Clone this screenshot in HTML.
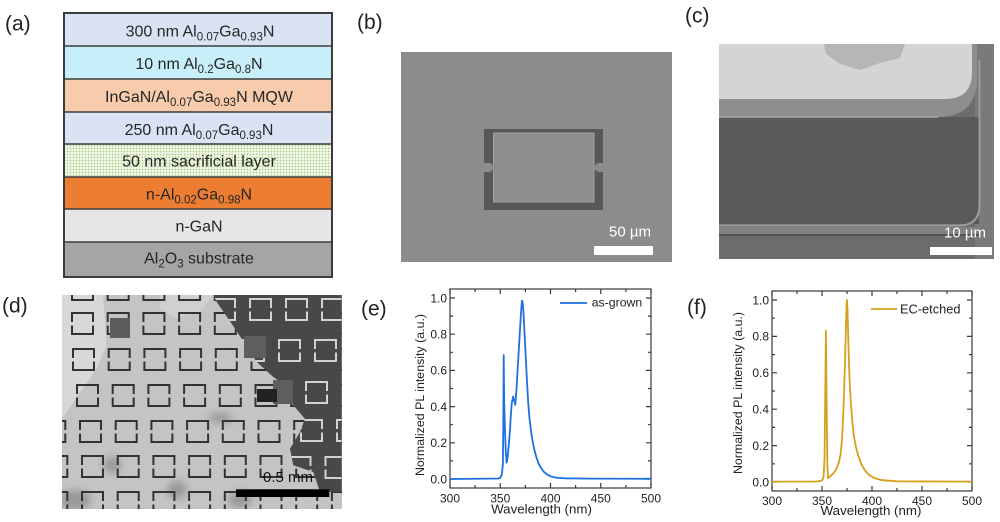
<!DOCTYPE html>
<html><head><meta charset="utf-8"><style>
html,body{margin:0;padding:0;background:#fff;}
svg{display:block;}
text{font-family:"Liberation Sans",Arial,sans-serif;}
</style></head><body>
<svg width="1000" height="522" viewBox="0 0 1000 522" xmlns="http://www.w3.org/2000/svg">
<defs>
<pattern id="dots" width="3" height="3" patternUnits="userSpaceOnUse"><rect width="3" height="3" fill="#f2f8e8"/><circle cx="1.5" cy="1.5" r="0.85" fill="#a6cd86"/></pattern>
<path id="sq" d="M0,9 V0 H21 V9 M21,12.5 V21 H0 V12.5" fill="none"/>
<clipPath id="dclip"><rect x="62" y="295" width="280" height="214"/></clipPath>
<clipPath id="darkclip"><polygon points="213.3,294.7 341.7,294.7 341.7,492 320,492 313.3,472 293.3,465.3 290,448.7 300,432 305,418.7 293.3,405.3 290,388.7 273.3,377 256.7,362 241.7,338.7 231.7,323.7 216.7,302"/></clipPath>
<filter id="blur4"><feGaussianBlur stdDeviation="4"/></filter>
</defs>

<rect width="1000" height="522" fill="#fff"/>

<!-- panel labels -->
<g font-size="21" fill="#222">
<text x="5" y="30.5">(a)</text>
<text x="357" y="29">(b)</text>
<text x="685" y="22.5">(c)</text>
<text x="2" y="312.5">(d)</text>
<text x="361" y="315.5">(e)</text>
<text x="687" y="314">(f)</text>
</g>

<!-- (a) layer stack -->
<rect x="64" y="13" width="268" height="33" fill="#dae3f3"/>
<rect x="64" y="46" width="268" height="33" fill="#c8eefa"/>
<rect x="64" y="79" width="268" height="33" fill="#f8cbad"/>
<rect x="64" y="112" width="268" height="32" fill="#dae3f3"/>
<rect x="64" y="144" width="268" height="33" fill="url(#dots)"/>
<rect x="64" y="177" width="268" height="32" fill="#ed7d31"/>
<rect x="64" y="209" width="268" height="33" fill="#e6e6e6"/>
<rect x="64" y="242" width="268" height="35" fill="#a5a5a5"/>
<g stroke="#3c3c3c" stroke-width="1.5">
<line x1="64" y1="46" x2="332" y2="46"/><line x1="64" y1="79" x2="332" y2="79"/>
<line x1="64" y1="112" x2="332" y2="112"/><line x1="64" y1="144" x2="332" y2="144"/>
<line x1="64" y1="177" x2="332" y2="177"/><line x1="64" y1="209" x2="332" y2="209"/>
<line x1="64" y1="242" x2="332" y2="242"/>
</g>
<rect x="64" y="13" width="268" height="264" fill="none" stroke="#3c3c3c" stroke-width="2"/>
<g font-size="16" fill="#262626" text-anchor="middle">
<text x="200" y="36.5">300 nm Al<tspan font-size="11.5" dy="4">0.07</tspan><tspan dy="-4">Ga</tspan><tspan font-size="11.5" dy="4">0.93</tspan><tspan dy="-4">N</tspan></text>
<text x="199" y="69">10 nm Al<tspan font-size="11.5" dy="4">0.2</tspan><tspan dy="-4">Ga</tspan><tspan font-size="11.5" dy="4">0.8</tspan><tspan dy="-4">N</tspan></text>
<text x="199" y="102">InGaN/Al<tspan font-size="11.5" dy="4">0.07</tspan><tspan dy="-4">Ga</tspan><tspan font-size="11.5" dy="4">0.93</tspan><tspan dy="-4">N MQW</tspan></text>
<text x="199" y="135">250 nm Al<tspan font-size="11.5" dy="4">0.07</tspan><tspan dy="-4">Ga</tspan><tspan font-size="11.5" dy="4">0.93</tspan><tspan dy="-4">N</tspan></text>
<text x="199" y="166.5">50 nm sacrificial layer</text>
<text x="199" y="199.5">n-Al<tspan font-size="11.5" dy="4">0.02</tspan><tspan dy="-4">Ga</tspan><tspan font-size="11.5" dy="4">0.98</tspan><tspan dy="-4">N</tspan></text>
<text x="199" y="231.5">n-GaN</text>
<text x="199" y="263.5">Al<tspan font-size="11.5" dy="4">2</tspan><tspan dy="-4">O</tspan><tspan font-size="11.5" dy="4">3</tspan><tspan dy="-4"> substrate</tspan></text>
</g>

<!-- (b) SEM -->
<rect x="401" y="52" width="271" height="210" fill="#8c8c8c"/>
<rect x="484" y="129" width="119" height="81" fill="#585858"/>
<rect x="493.5" y="133" width="100.5" height="69" fill="#8e8e8e" stroke="#a2a2a2" stroke-width="1"/>
<polygon points="484,163 490,163 494,166 494,169 490,172 484,172" fill="#8c8c8c"/>
<polygon points="603,163 598,163 594,166 594,169 598,172 603,172" fill="#8c8c8c"/>
<rect x="594" y="246" width="59" height="9" fill="#fff"/>
<text x="609" y="236.5" font-size="15" fill="#fff">50 µm</text>

<!-- (c) SEM -->
<rect x="719" y="44" width="275" height="215" fill="#6c6c6c"/>
<rect x="975" y="44" width="19" height="215" fill="#7a7a7a"/>
<path d="M719,44 H977 V78 Q977,117 938,117 H719 Z" fill="#8e8e8e"/>
<path d="M719,44 H972 V72 Q972,99 945,99 H719 Z" fill="#d4d4d4"/>
<path d="M824,44 H905 L900,58 L880,63 L860,70 L840,64 L826,54 Z" fill="#b6b6b6"/>
<rect x="719" y="117" width="260" height="107" fill="#5a5a5a"/>
<path d="M958,117 Q979,117 979,138 V205 Q979,224 960,224 H719 V117 Z" fill="#5a5a5a"/>
<path d="M719,117 H938" stroke="#a6a6a6" stroke-width="1.5" fill="none"/>
<path d="M979.5,60 V205 Q979.5,225.5 959,225.5 H719" stroke="#9c9c9c" stroke-width="2" fill="none"/>
<rect x="719" y="227" width="260" height="7" fill="#828282"/>
<rect x="719" y="234" width="260" height="2" fill="#555"/>
<rect x="930" y="247" width="62" height="8" fill="#fff"/>
<text x="944" y="237.5" font-size="15" fill="#fff">10 µm</text>

<!-- (d) SEM -->
<g clip-path="url(#dclip)">
<rect x="62" y="295" width="280" height="214" fill="#c4c4c4"/>
<polygon points="62,295 103,295 106.7,345 96.7,368.7 80,392 66.7,412 62,418.7" fill="#d8d8d8"/>
<polygon points="160,295 213,295 200,312 175,318 160,308" fill="#d0d0d0"/>
<g filter="url(#blur4)" fill="#8a8a8a" opacity="0.75">
<ellipse cx="75" cy="500" rx="16" ry="10"/>
<ellipse cx="112" cy="465" rx="9" ry="8"/>
<ellipse cx="177" cy="490" rx="10" ry="9"/>
<ellipse cx="240" cy="500" rx="12" ry="8"/>
<ellipse cx="220" cy="418" rx="12" ry="5"/>
</g>
<g stroke="#333" stroke-width="2">
<use href="#sq" x="72" y="279"/><use href="#sq" x="107.7" y="279"/><use href="#sq" x="143.4" y="279"/><use href="#sq" x="179.1" y="279"/><use href="#sq" x="214.8" y="279"/><use href="#sq" x="250.5" y="279"/><use href="#sq" x="286.2" y="279"/><use href="#sq" x="321.9" y="279"/>
<use href="#sq" x="72" y="313"/><use href="#sq" x="107.7" y="313"/><use href="#sq" x="143.4" y="313"/><use href="#sq" x="179.1" y="313"/><use href="#sq" x="214.8" y="313"/><use href="#sq" x="250.5" y="313"/><use href="#sq" x="286.2" y="313"/><use href="#sq" x="321.9" y="313"/>
<use href="#sq" x="73" y="349"/><use href="#sq" x="108.7" y="349"/><use href="#sq" x="144.4" y="349"/><use href="#sq" x="180.1" y="349"/><use href="#sq" x="215.8" y="349"/><use href="#sq" x="251.5" y="349"/><use href="#sq" x="287.2" y="349"/><use href="#sq" x="322.9" y="349"/>
<use href="#sq" x="77" y="385"/><use href="#sq" x="112.7" y="385"/><use href="#sq" x="148.4" y="385"/><use href="#sq" x="184.1" y="385"/><use href="#sq" x="219.8" y="385"/><use href="#sq" x="255.5" y="385"/><use href="#sq" x="291.2" y="385"/><use href="#sq" x="326.9" y="385"/>
<use href="#sq" x="44.3" y="421"/><use href="#sq" x="80" y="421"/><use href="#sq" x="115.7" y="421"/><use href="#sq" x="151.4" y="421"/><use href="#sq" x="187.1" y="421"/><use href="#sq" x="222.8" y="421"/><use href="#sq" x="258.5" y="421"/><use href="#sq" x="294.2" y="421"/><use href="#sq" x="329.9" y="421"/>
<use href="#sq" x="46.3" y="456"/><use href="#sq" x="82" y="456"/><use href="#sq" x="117.7" y="456"/><use href="#sq" x="153.4" y="456"/><use href="#sq" x="189.1" y="456"/><use href="#sq" x="224.8" y="456"/><use href="#sq" x="260.5" y="456"/><use href="#sq" x="296.2" y="456"/><use href="#sq" x="331.9" y="456"/>
<use href="#sq" x="46.3" y="492"/><use href="#sq" x="82" y="492"/><use href="#sq" x="117.7" y="492"/><use href="#sq" x="153.4" y="492"/><use href="#sq" x="189.1" y="492"/><use href="#sq" x="224.8" y="492"/><use href="#sq" x="260.5" y="492"/><use href="#sq" x="296.2" y="492"/><use href="#sq" x="331.9" y="492"/>
</g>
<rect x="110" y="318" width="20" height="20" fill="#5c5c5c"/>
<polygon points="213.3,294.7 341.7,294.7 341.7,492 320,492 313.3,472 293.3,465.3 290,448.7 300,432 305,418.7 293.3,405.3 290,388.7 273.3,377 256.7,362 241.7,338.7 231.7,323.7 216.7,302" fill="#484848"/>
<g clip-path="url(#darkclip)" stroke="#d2d2d2" stroke-width="2">
<use href="#sq" x="178" y="299"/><use href="#sq" x="214" y="299"/><use href="#sq" x="250" y="299"/><use href="#sq" x="286" y="299"/><use href="#sq" x="322" y="299"/>
<use href="#sq" x="171" y="340"/><use href="#sq" x="207" y="340"/><use href="#sq" x="243" y="340"/><use href="#sq" x="279" y="340"/><use href="#sq" x="315" y="340"/>
<use href="#sq" x="198" y="382"/><use href="#sq" x="234" y="382"/><use href="#sq" x="270" y="382"/><use href="#sq" x="306" y="382"/>
<use href="#sq" x="193" y="420"/><use href="#sq" x="229" y="420"/><use href="#sq" x="265" y="420"/><use href="#sq" x="301" y="420"/><use href="#sq" x="337" y="420"/>
<use href="#sq" x="181.5" y="457"/><use href="#sq" x="217.5" y="457"/><use href="#sq" x="253.5" y="457"/><use href="#sq" x="289.5" y="457"/><use href="#sq" x="325.5" y="457"/>
</g>
<rect x="244" y="336" width="22" height="22" fill="#5e5e5e"/>
<rect x="273" y="380" width="20" height="24" fill="#5e5e5e"/>
<rect x="257" y="389" width="20" height="13" fill="#222"/>
<rect x="236" y="489.3" width="93.3" height="7.7" fill="#000"/>
<text x="263" y="482" font-size="15" fill="#111">0.5 mm</text>
</g>

<!-- (e) chart -->
<g fill="none" stroke="#3a3a3a" stroke-width="1.2">
<rect x="450" y="289" width="201" height="199"/>
<path d="M450,488 v-5 M500.25,488 v-5 M550.5,488 v-5 M600.75,488 v-5 M651,488 v-5 M475.1,488 v-3 M525.4,488 v-3 M575.6,488 v-3 M625.9,488 v-3
M450,289 v5 M500.25,289 v5 M550.5,289 v5 M600.75,289 v5 M651,289 v5 M475.1,289 v3 M525.4,289 v3 M575.6,289 v3 M625.9,289 v3
M450,479 h5 M450,442.8 h5 M450,406.6 h5 M450,370.4 h5 M450,334.2 h5 M450,298 h5 M450,460.9 h3 M450,424.7 h3 M450,388.5 h3 M450,352.3 h3 M450,316.1 h3
M651,479 h-5 M651,442.8 h-5 M651,406.6 h-5 M651,370.4 h-5 M651,334.2 h-5 M651,298 h-5 M651,460.9 h-3 M651,424.7 h-3 M651,388.5 h-3 M651,352.3 h-3 M651,316.1 h-3"/>
</g>
<g font-size="12" fill="#222">
<g text-anchor="end">
<text x="447" y="483.3">0.0</text><text x="447" y="447.1">0.2</text><text x="447" y="410.9">0.4</text><text x="447" y="374.7">0.6</text><text x="447" y="338.5">0.8</text><text x="447" y="302.3">1.0</text>
</g>
<g text-anchor="middle">
<text x="450" y="502.5">300</text><text x="500.25" y="502.5">350</text><text x="550.5" y="502.5">400</text><text x="600.75" y="502.5">450</text><text x="651" y="502.5">500</text>
</g>
</g>
<text x="541.5" y="513.5" font-size="13.3" fill="#222" text-anchor="middle">Wavelength (nm)</text>
<text transform="translate(424,395) rotate(-90)" font-size="12.4" fill="#222" text-anchor="middle">Normalized PL intensity (a.u.)</text>
<line x1="560" y1="303" x2="587" y2="303" stroke="#1f6fe3" stroke-width="1.8"/>
<text x="591.7" y="306.5" font-size="12.3" fill="#222">as-grown</text>
<polyline fill="none" stroke="#1f6fe3" stroke-width="1.8" stroke-linejoin="round" points="450,479 490.2,478.6 498.2,478.5 500.25,477.9 501.8,474.5 502.9,464.5 503.3,424.7 503.7,355 504.2,403 505,430.1 505.8,451.8 506.6,462.7 507.6,457.3 508.8,444.6 510,430.1 510.9,413.8 511.8,403 513.1,396.6 514.3,401.2 515.3,404.8 516.5,388.5 517.8,366.8 519.3,341.4 520.8,316.1 521.9,300.7 522.5,301.6 523.4,310.7 524.4,330.6 525.7,355.9 526.9,379.5 528.1,401.2 529.4,417.5 530.9,430.1 532.4,440.1 534.4,450 536.4,457.3 538.4,463.1 540.5,467.2 543.5,471.4 546.5,474.1 550.5,476.3 555.5,477.6 565.6,478.3 590.7,478.6 651,478.8"/>

<!-- (f) chart -->
<g fill="none" stroke="#3a3a3a" stroke-width="1.2">
<rect x="772" y="291" width="200" height="200"/>
<path d="M772,491 v-5 M822,491 v-5 M872,491 v-5 M922,491 v-5 M972,491 v-5 M797,491 v-3 M847,491 v-3 M897,491 v-3 M947,491 v-3
M772,291 v5 M822,291 v5 M872,291 v5 M922,291 v5 M972,291 v5 M797,291 v3 M847,291 v3 M897,291 v3 M947,291 v3
M772,482 h5 M772,445.6 h5 M772,409.2 h5 M772,372.8 h5 M772,336.4 h5 M772,300 h5 M772,463.8 h3 M772,427.4 h3 M772,391 h3 M772,354.6 h3 M772,318.2 h3
M972,482 h-5 M972,445.6 h-5 M972,409.2 h-5 M972,372.8 h-5 M972,336.4 h-5 M972,300 h-5 M972,463.8 h-3 M972,427.4 h-3 M972,391 h-3 M972,354.6 h-3 M972,318.2 h-3"/>
</g>
<g font-size="12" fill="#222">
<g text-anchor="end">
<text x="769" y="486.3">0.0</text><text x="769" y="449.9">0.2</text><text x="769" y="413.5">0.4</text><text x="769" y="377.1">0.6</text><text x="769" y="340.7">0.8</text><text x="769" y="304.3">1.0</text>
</g>
<g text-anchor="middle">
<text x="772" y="505">300</text><text x="822" y="505">350</text><text x="872" y="505">400</text><text x="922" y="505">450</text><text x="972" y="505">500</text>
</g>
</g>
<text x="871" y="515" font-size="13.3" fill="#222" text-anchor="middle">Wavelength (nm)</text>
<text transform="translate(742,393) rotate(-90)" font-size="12.4" fill="#222" text-anchor="middle">Normalized PL intensity (a.u.)</text>
<line x1="871" y1="309" x2="897" y2="309" stroke="#d4a11c" stroke-width="1.8"/>
<text x="900" y="313.5" font-size="12.8" fill="#222">EC-etched</text>
<polyline fill="none" stroke="#d4a11c" stroke-width="1.8" stroke-linejoin="round" points="772,481.6 817,481.5 822,480.5 823.5,477.5 824.5,460.2 825.3,391 825.9,330.9 826.6,400.1 827.3,463.8 828,478 829,477.5 831,475.6 833,473.8 835,471.1 837,467.4 839,462 840.5,454.7 841.8,442 842.8,423.8 843.8,400.1 844.8,369.2 845.8,332.8 846.6,303.6 847,300 847.6,312.7 848.5,347.3 849.5,378.3 850.8,401.9 852.3,421.9 854,436.5 856,447.4 858.5,456.5 861.5,464.7 865,470.5 869,474.7 874,478 882,480.2 897,481.3 972,481.6"/>
</svg>
</body></html>
